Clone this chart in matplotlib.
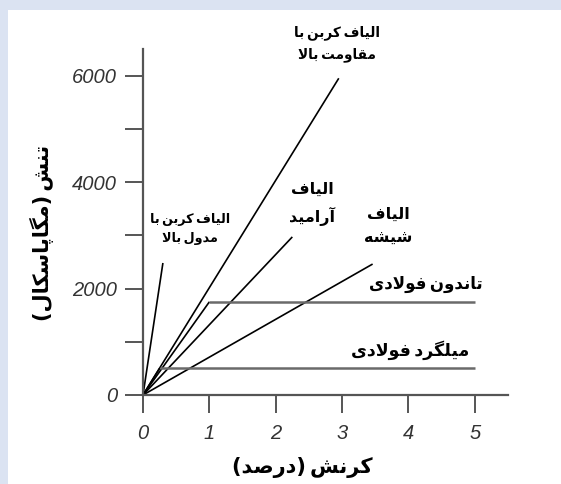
import matplotlib
matplotlib.use("Agg")
import matplotlib.pyplot as plt
from matplotlib.patches import Rectangle

# ---------------- data ----------------
xticks = [0, 1, 2, 3, 4, 5]
yticks_major = [0, 2000, 4000, 6000]
yticks_minor = [1000, 3000, 5000]

# fibres: linear to failure (strain %, stress MPa)
hm_carbon_x = [0, 0.30]
hm_carbon_y = [0, 2480]
hs_carbon_x = [0, 2.95]
hs_carbon_y = [0, 5950]
aramid_x = [0, 2.25]
aramid_y = [0, 2970]
glass_x = [0, 3.46]
glass_y = [0, 2460]
# steels: elastic then plastic plateau
tendon_x = [0, 1.0, 5.0]
tendon_y = [0, 1750, 1750]
bar_x = [0, 0.25, 5.0]
bar_y = [0, 500, 500]

lbl_hs = ["الیاف کربن با", "مقاومت بالا"]
lbl_hm = ["الیاف کربن با", "مدول بالا"]
lbl_ar = ["الیاف", "آرامید"]
lbl_gl = ["الیاف", "شیشه"]
lbl_tendon = "تاندون فولادی"
lbl_bar = "میلگرد فولادی"
xlabel = "کرنش (درصد)"
ylabel = "تنش (مگاپاسکال)"

# ------------- minimal Arabic/Persian shaping -------------
FORMS = {
    'ا': ('\uFE8D', '\uFE8E', None, None),
    'آ': ('\uFE81', '\uFE82', None, None),
    'ب': ('\uFE8F', '\uFE90', '\uFE91', '\uFE92'),
    'پ': ('\uFB56', '\uFB57', '\uFB58', '\uFB59'),
    'ت': ('\uFE95', '\uFE96', '\uFE97', '\uFE98'),
    'د': ('\uFEA9', '\uFEAA', None, None),
    'ر': ('\uFEAD', '\uFEAE', None, None),
    'س': ('\uFEB1', '\uFEB2', '\uFEB3', '\uFEB4'),
    'ش': ('\uFEB5', '\uFEB6', '\uFEB7', '\uFEB8'),
    'ص': ('\uFEB9', '\uFEBA', '\uFEBB', '\uFEBC'),
    'ف': ('\uFED1', '\uFED2', '\uFED3', '\uFED4'),
    'ق': ('\uFED5', '\uFED6', '\uFED7', '\uFED8'),
    'ک': ('\uFB8E', '\uFB8F', '\uFB90', '\uFB91'),
    'گ': ('\uFB92', '\uFB93', '\uFB94', '\uFB95'),
    'ل': ('\uFEDD', '\uFEDE', '\uFEDF', '\uFEE0'),
    'م': ('\uFEE1', '\uFEE2', '\uFEE3', '\uFEE4'),
    'ن': ('\uFEE5', '\uFEE6', '\uFEE7', '\uFEE8'),
    'و': ('\uFEED', '\uFEEE', None, None),
    'ه': ('\uFEE9', '\uFEEA', '\uFEEB', '\uFEEC'),
    'ی': ('\uFBFC', '\uFBFD', '\uFBFE', '\uFBFF'),
}
LAM_ALEF = {'ا': ('\uFEFB', '\uFEFC'), 'آ': ('\uFEF5', '\uFEF6')}
MIRROR = {'(': ')', ')': '('}


def shape(s, space='\u2009'):
    out = []
    n = len(s)
    i = 0
    while i < n:
        c = s[i]
        if c not in FORMS:
            out.append(space if c == ' ' else c)
            i += 1
            continue
        prev = s[i - 1] if i > 0 else None
        join_prev = prev in FORMS and FORMS[prev][2] is not None
        nxt = s[i + 1] if i + 1 < n else None
        if c == 'ل' and nxt in LAM_ALEF:
            out.append(LAM_ALEF[nxt][1] if join_prev else LAM_ALEF[nxt][0])
            i += 2
            continue
        join_next = FORMS[c][2] is not None and nxt in FORMS
        iso, fin, ini, med = FORMS[c]
        if join_prev and join_next:
            out.append(med)
        elif join_prev:
            out.append(fin)
        elif join_next:
            out.append(ini)
        else:
            out.append(iso)
        i += 1
    return ''.join(MIRROR.get(ch, ch) for ch in reversed(out))


# ---------------- figure ----------------
W, H = 561, 484
fig = plt.figure(figsize=(W / 100, H / 100), dpi=100)
fig.patch.set_facecolor('#dbe3f2')
fig.patches.append(Rectangle((8 / W, 0), 1, (H - 10) / H, transform=fig.transFigure,
                             facecolor='white', edgecolor='none', zorder=-10))

ax = fig.add_axes([143 / W, (H - 395) / H, (508 - 143) / W, (395 - 49) / H])
ax.set_facecolor('none')
ax.set_xlim(0, 5.5)
ax.set_ylim(0, 6500)

axc = '#555555'
for sp in ['top', 'right']:
    ax.spines[sp].set_visible(False)
for sp in ['left', 'bottom']:
    ax.spines[sp].set_color(axc)
    ax.spines[sp].set_linewidth(1.6)

ax.set_xticks(xticks)
ax.set_xticklabels([str(v) for v in xticks])
ax.set_yticks(yticks_major)
ax.set_yticklabels([str(v) for v in yticks_major])
ax.set_yticks(yticks_minor, minor=True)
ax.tick_params(axis='both', which='both', direction='out', length=13, width=1.4, color=axc)
ax.tick_params(axis='y', which='major', pad=5.5)
ax.tick_params(axis='x', which='major', pad=8)
for t in ax.get_xticklabels() + ax.get_yticklabels():
    t.set_fontfamily('Liberation Sans')
    t.set_fontstyle('italic')
    t.set_fontsize(14.5)
    t.set_color('#333333')

# lines
blk = dict(color='black', lw=1.2, solid_capstyle='butt', clip_on=False)
ax.plot(hm_carbon_x, hm_carbon_y, **blk)
ax.plot(hs_carbon_x, hs_carbon_y, **blk)
ax.plot(aramid_x, aramid_y, **blk)
ax.plot(glass_x, glass_y, **blk)
ax.plot(tendon_x[:2], tendon_y[:2], **blk)
ax.plot(bar_x[:2], bar_y[:2], **blk)
gry = dict(color='#6a6a6a', lw=1.8, solid_capstyle='butt')
ax.plot(tendon_x[1:], tendon_y[1:], **gry)
ax.plot(bar_x[1:], bar_y[1:], **gry)

fam = 'DejaVu Sans'


def label(x, y, lines, size, ls=1.6):
    ax.text(x, y, '\n'.join(shape(l) for l in lines), ha='center', va='center',
            multialignment='center', fontsize=size, fontweight='bold',
            family=fam, linespacing=ls, clip_on=False)


label(2.92, 6600, lbl_hs, 9.8)
label(0.71, 3120, lbl_hm, 9.2)
label(2.55, 3590, lbl_ar, 11.5, 1.7)
label(3.69, 3170, lbl_gl, 11.5, 1.7)
label(4.26, 2090, [lbl_tendon], 12)
label(4.02, 840, [lbl_bar], 12.5)

fig.text(302 / W, 1 - 467 / H, shape(xlabel), ha='center', va='center',
         fontsize=15, fontweight='bold', family=fam)
fig.text(42 / W, 1 - 233 / H, shape(ylabel), rotation=90, ha='center', va='center',
         fontsize=15, fontweight='bold', family=fam)

fig.savefig('out.png', dpi=100, facecolor=fig.get_facecolor())
